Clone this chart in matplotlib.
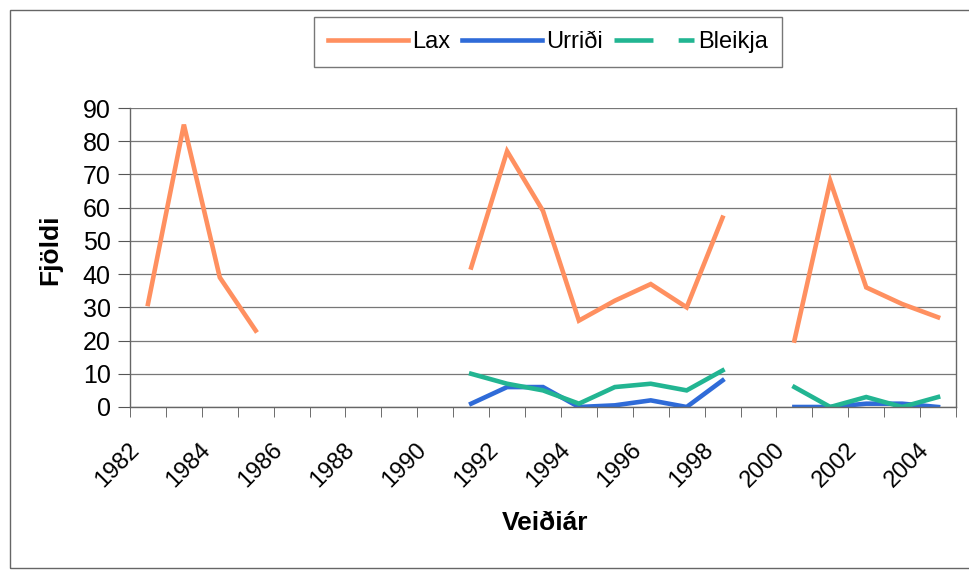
import numpy as np
import matplotlib
matplotlib.use("Agg")
import matplotlib.pyplot as plt
import matplotlib.transforms as mtransforms
from matplotlib.lines import Line2D
from matplotlib.patches import Rectangle

plt.rcParams["font.family"] = ["Liberation Sans", "DejaVu Sans"]

# Veiðiár 1982-2004, NaN = engin gögn
YEARS = list(range(1982, 2005))
LAX = [31, 85, 39, 23, np.nan, np.nan, np.nan, np.nan, np.nan,
       42, 77, 59, 26, 32, 37, 30, 57, np.nan,
       20, 68, 36, 31, 27]
URRIDI = [np.nan] * 9 + [1, 6, 6, 0, 0.5, 2, 0, 8, np.nan, 0, 0, 1, 1, 0]
BLEIKJA = [np.nan] * 9 + [10, 7, 5, 1, 6, 7, 5, 11, np.nan, 6, 0, 3, 0, 3]

COLORS = {"Lax": "#ff9060", "Urriði": "#2f6bd8", "Bleikja": "#22b592"}

fig = plt.figure(figsize=(9.69, 5.71), dpi=100)
ax = fig.add_axes([130 / 969, 1 - 407 / 571, 826 / 969, 299 / 571])

x = np.arange(len(YEARS))
ax.plot(x, LAX, color=COLORS["Lax"], lw=3.3, solid_joinstyle="miter")
ax.plot(x, URRIDI, color=COLORS["Urriði"], lw=3.3, solid_joinstyle="miter")
ax.plot(x, BLEIKJA, color=COLORS["Bleikja"], lw=3.3, solid_joinstyle="miter")

ax.set_xlim(-0.5, len(YEARS) - 0.5)
ax.set_ylim(0, 90)
ax.set_yticks(range(0, 91, 10))
ax.yaxis.grid(True, color="#777777", lw=0.9)
ax.set_axisbelow(True)

# merki á mörkum flokka, ártöl á öðru hverju ári
ax.set_xticks(x[::2])
ax.set_xticklabels([str(y) for y in YEARS[::2]], rotation=45, ha="right",
                   va="top", rotation_mode="anchor", fontsize=17)
ax.set_xticks(np.arange(-0.5, len(YEARS)), minor=True)
ax.tick_params(axis="x", which="major", length=0, pad=23)
ax.tick_params(axis="x", which="minor", length=7, color="#555555")
ax.tick_params(axis="y", length=9, color="#555555", labelsize=18, pad=5)
shift = mtransforms.ScaledTranslation(-20 / 100, 0, fig.dpi_scale_trans)
for lbl in ax.get_xticklabels():
    lbl.set_transform(lbl.get_transform() + shift)

for s in ax.spines.values():
    s.set_color("#666666")
    s.set_linewidth(1.0)
ax.spines["top"].set_visible(False)

fig.text(545 / 969, 1 - 523 / 571, "Veiðiár", fontsize=19, fontweight="bold",
         ha="center", va="center")
fig.text(50 / 969, 1 - 250 / 571, "Fjöldi", fontsize=19, fontweight="bold",
         ha="center", va="center", rotation=90)

handles = [
    Line2D([], [], color=COLORS["Lax"], lw=3.3),
    Line2D([], [], color=COLORS["Urriði"], lw=3.3),
    Line2D([], [], color=COLORS["Bleikja"], lw=3.3, dashes=(8.5, 5.5)),
]
leg = fig.legend(handles, ["Lax", "Urriði", "Bleikja"], ncol=3,
                 loc="center", bbox_to_anchor=(548 / 969, 1 - 42 / 571),
                 fontsize=17, handlelength=3.4, handletextpad=0.15,
                 columnspacing=0.5, fancybox=False, edgecolor="#555555",
                 borderpad=0.6)
leg.get_frame().set_linewidth(1.0)

# rammi utan um myndina
fig.patches.append(Rectangle((10 / 969, 3 / 571), 1.2, 1 - 13 / 571,
                             transform=fig.transFigure, fill=False,
                             edgecolor="#666666", lw=1.0))

fig.savefig("out.png", dpi=100)
